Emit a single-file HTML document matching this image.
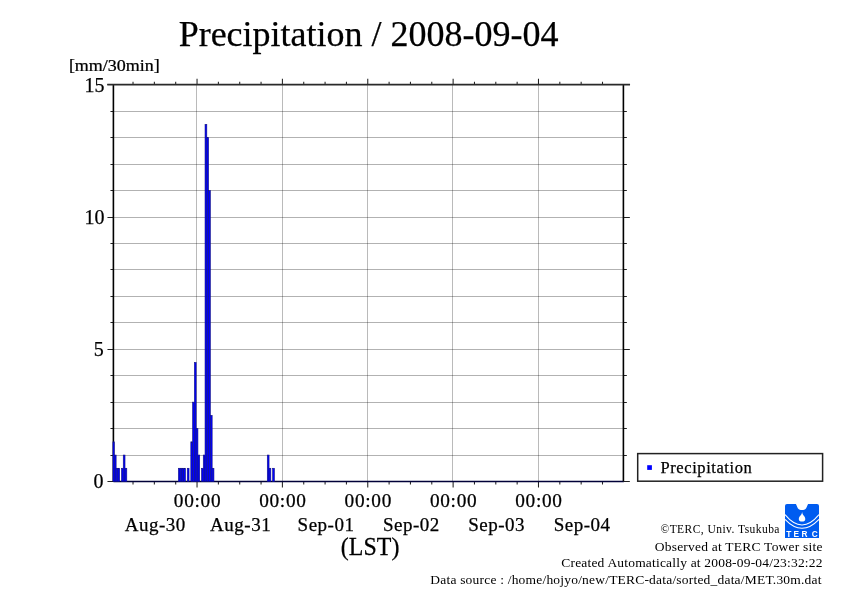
<!DOCTYPE html><html><head><meta charset="utf-8"><style>html,body{margin:0;padding:0;background:#fff;width:842px;height:595px;overflow:hidden}svg{display:block;will-change:transform}text{font-family:"Liberation Serif",serif}.h text,text.h{stroke:#000;stroke-width:0.25px}</style></head><body><svg width="842" height="595" viewBox="0 0 842 595"><rect width="842" height="595" fill="#fff"/><path d="M113.46,455.50H623.84M113.46,428.50H623.84M113.46,402.50H623.84M113.46,375.50H623.84M113.46,349.50H623.84M113.46,322.50H623.84M113.46,296.50H623.84M113.46,269.50H623.84M113.46,243.50H623.84M113.46,217.50H623.84M113.46,190.50H623.84M113.46,164.50H623.84M113.46,137.50H623.84M113.46,111.50H623.84" stroke="#000" stroke-opacity="0.3" stroke-width="1" fill="none"/><path d="M196.50,84.75V481.50M282.50,84.75V481.50M367.50,84.75V481.50M452.50,84.75V481.50M538.50,84.75V481.50" stroke="#000" stroke-opacity="0.27" stroke-width="1" fill="none"/><path d="M107.46,481.50H113.46M623.84,481.50H629.84M110.46,455.50H113.46M623.84,455.50H626.84M110.46,428.50H113.46M623.84,428.50H626.84M110.46,402.50H113.46M623.84,402.50H626.84M110.46,375.50H113.46M623.84,375.50H626.84M107.46,349.50H113.46M623.84,349.50H629.84M110.46,322.50H113.46M623.84,322.50H626.84M110.46,296.50H113.46M623.84,296.50H626.84M110.46,269.50H113.46M623.84,269.50H626.84M110.46,243.50H113.46M623.84,243.50H626.84M107.46,217.50H113.46M623.84,217.50H629.84M110.46,190.50H113.46M623.84,190.50H626.84M110.46,164.50H113.46M623.84,164.50H626.84M110.46,137.50H113.46M623.84,137.50H626.84M110.46,111.50H113.46M623.84,111.50H626.84M107.46,84.50H113.46M623.84,84.50H629.84M133.02,84.75V81.75M133.02,481.50V484.50M154.36,84.75V81.75M154.36,481.50V484.50M175.70,84.75V81.75M175.70,481.50V484.50M197.04,84.75V78.75M197.04,481.50V487.50M218.38,84.75V81.75M218.38,481.50V484.50M239.72,84.75V81.75M239.72,481.50V484.50M261.06,84.75V81.75M261.06,481.50V484.50M282.40,84.75V78.75M282.40,481.50V487.50M303.74,84.75V81.75M303.74,481.50V484.50M325.08,84.75V81.75M325.08,481.50V484.50M346.42,84.75V81.75M346.42,481.50V484.50M367.76,84.75V78.75M367.76,481.50V487.50M389.10,84.75V81.75M389.10,481.50V484.50M410.44,84.75V81.75M410.44,481.50V484.50M431.78,84.75V81.75M431.78,481.50V484.50M453.12,84.75V78.75M453.12,481.50V487.50M474.46,84.75V81.75M474.46,481.50V484.50M495.80,84.75V81.75M495.80,481.50V484.50M517.14,84.75V81.75M517.14,481.50V484.50M538.48,84.75V78.75M538.48,481.50V487.50M559.82,84.75V81.75M559.82,481.50V484.50M581.16,84.75V81.75M581.16,481.50V484.50M602.50,84.75V81.75M602.50,481.50V484.50" stroke="#222" stroke-width="1.05" fill="none"/><path d="M113.46,481.45H623.84" stroke="#000038" stroke-width="1.6"/><path d="M113.4,481.50V84.0" stroke="#000" stroke-width="1.6" fill="none"/><path d="M623.4,481.50V84.0" stroke="#000" stroke-width="1.6" fill="none"/><path d="M107.26,84.7H630.04" stroke="#2a2a2a" stroke-width="1.8" fill="none"/><g fill="#0000ff" stroke="#101080" stroke-width="0.6"><rect x="112.92" y="441.82" width="1.428" height="39.68"/><rect x="114.35" y="455.05" width="1.778" height="26.45"/><rect x="116.13" y="468.27" width="1.778" height="13.23"/><rect x="117.90" y="468.27" width="1.778" height="13.23"/><rect x="121.46" y="468.27" width="1.778" height="13.23"/><rect x="123.24" y="455.05" width="1.778" height="26.45"/><rect x="125.02" y="468.27" width="1.778" height="13.23"/><rect x="178.37" y="468.27" width="1.778" height="13.23"/><rect x="180.15" y="468.27" width="1.778" height="13.23"/><rect x="181.92" y="468.27" width="1.778" height="13.23"/><rect x="183.70" y="468.27" width="1.778" height="13.23"/><rect x="187.26" y="468.27" width="1.778" height="13.23"/><rect x="190.82" y="441.82" width="1.778" height="39.68"/><rect x="192.59" y="402.15" width="1.778" height="79.35"/><rect x="194.37" y="362.48" width="1.778" height="119.02"/><rect x="196.15" y="428.60" width="1.778" height="52.90"/><rect x="197.93" y="455.05" width="1.778" height="26.45"/><rect x="201.49" y="468.27" width="1.778" height="13.23"/><rect x="203.26" y="455.05" width="1.778" height="26.45"/><rect x="205.04" y="124.43" width="1.778" height="357.07"/><rect x="206.82" y="137.65" width="1.778" height="343.85"/><rect x="208.60" y="190.55" width="1.778" height="290.95"/><rect x="210.38" y="415.38" width="1.778" height="66.12"/><rect x="212.16" y="468.27" width="1.778" height="13.23"/><rect x="267.28" y="455.05" width="1.778" height="26.45"/><rect x="269.06" y="468.27" width="1.778" height="13.23"/><rect x="272.62" y="468.27" width="1.778" height="13.23"/></g><g class="h"><text x="104.5" y="91.55" font-size="20" text-anchor="end">15</text><text x="104.5" y="223.80" font-size="20" text-anchor="end">10</text><text x="103.7" y="356.05" font-size="20" text-anchor="end">5</text><text x="103.6" y="488.30" font-size="20" text-anchor="end">0</text><text transform="translate(114.35,70.6) scale(1.125,1)" x="0" y="0" font-size="16" text-anchor="middle">[mm/30min]</text><text x="368.6" y="45.6" font-size="36" text-anchor="middle">Precipitation / 2008-09-04</text><text x="197.54" y="507.1" font-size="19.3" text-anchor="middle" letter-spacing="0.7">00:00</text><text x="282.90" y="507.1" font-size="19.3" text-anchor="middle" letter-spacing="0.7">00:00</text><text x="368.26" y="507.1" font-size="19.3" text-anchor="middle" letter-spacing="0.7">00:00</text><text x="453.62" y="507.1" font-size="19.3" text-anchor="middle" letter-spacing="0.7">00:00</text><text x="538.98" y="507.1" font-size="19.3" text-anchor="middle" letter-spacing="0.7">00:00</text><text x="155.26" y="530.7" font-size="19" text-anchor="middle" letter-spacing="0.5">Aug-30</text><text x="240.62" y="530.7" font-size="19" text-anchor="middle" letter-spacing="0.5">Aug-31</text><text x="325.98" y="530.7" font-size="19" text-anchor="middle" letter-spacing="0.5">Sep-01</text><text x="411.34" y="530.7" font-size="19" text-anchor="middle" letter-spacing="0.5">Sep-02</text><text x="496.70" y="530.7" font-size="19" text-anchor="middle" letter-spacing="0.5">Sep-03</text><text x="582.06" y="530.7" font-size="19" text-anchor="middle" letter-spacing="0.5">Sep-04</text><text transform="translate(370.1,555.1) scale(0.985,1)" font-size="24.3" text-anchor="middle">(LST)</text></g><rect x="637.7" y="453.6" width="184.9" height="27.6" fill="none" stroke="#222" stroke-width="1.5"/><rect x="647.2" y="465.2" width="4.7" height="4.7" fill="#0000ff"/><text class="h" x="660.5" y="472.7" font-size="16.5" letter-spacing="0.58">Precipitation</text><text x="779.95" y="533.3" font-size="11.5" text-anchor="end" letter-spacing="0.45">©TERC, Univ. Tsukuba</text><text x="822.72" y="550.6" font-size="13.5" text-anchor="end" letter-spacing="0.22">Observed at TERC Tower site</text><text x="822.69" y="567.3" font-size="13.5" text-anchor="end" letter-spacing="0.19">Created Automatically at 2008-09-04/23:32:22</text><text x="821.7" y="583.5" font-size="13.5" text-anchor="end" letter-spacing="0.2">Data source : /home/hojyo/new/TERC-data/sorted_data/MET.30m.dat</text><g transform="translate(785,504)"><path d="M0,34V2Q0,0 2,0H32Q34,0 34,2V34Z" fill="#005cf0"/><path d="M10.6,-0.5H23.4C22.3,1 22,3 21,4.6C20,6 18.5,6 17,6C15.5,6 14,6 13,4.6C12,3 11.7,1 10.6,-0.5Z" fill="#fff"/><path d="M17.1,8L17.6,10C18.5,11.5 20.3,13 20.3,15C20.3,16.8 19,17.6 17,17.6C15,17.6 13.8,16.8 13.8,15C13.8,13 15.6,11.5 16.6,10Z" fill="#fff"/><path d="M0,10.6Q17,31.2 34,10.6M0,15.4Q17,33.2 34,15.4" stroke="#fff" stroke-width="1.05" fill="none"/><g fill="#fff" style="font-family:Liberation Sans;font-weight:bold;font-size:8.3px" text-anchor="middle"><text x="3.9" y="32.8" style="font-family:Liberation Sans">T</text><text x="11.3" y="32.8" style="font-family:Liberation Sans">E</text><text x="19.4" y="32.8" style="font-family:Liberation Sans">R</text><text x="29.7" y="32.8" style="font-family:Liberation Sans">C</text></g></g></svg></body></html>
